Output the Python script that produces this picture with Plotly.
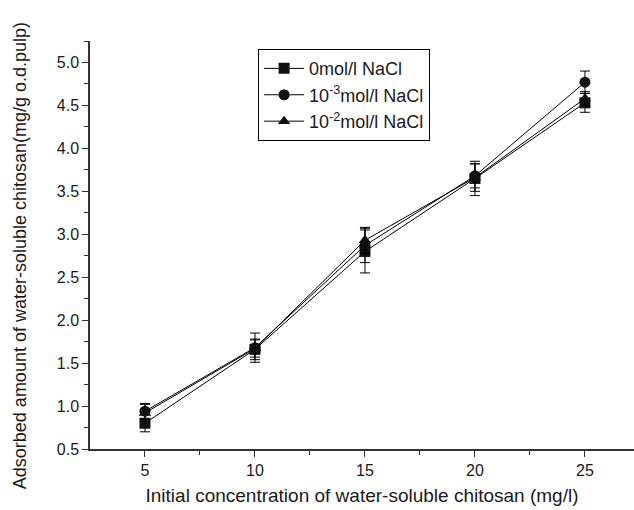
import plotly.graph_objects as go

x = [5, 10, 15, 20, 25]
names = ["0mol/l NaCl", "10<sup>-3</sup>mol/l NaCl", "10<sup>-2</sup>mol/l NaCl"]
y0 = [0.80, 1.66, 2.80, 3.65, 4.53]
e0 = [0.10, 0.12, 0.25, 0.20, 0.11]
y1 = [0.94, 1.68, 2.87, 3.68, 4.77]
e1 = [0.09, 0.17, 0.20, 0.14, 0.13]
y2 = [0.92, 1.67, 2.93, 3.66, 4.58]
e2 = [0.10, 0.10, 0.15, 0.16, 0.08]
symbols = ["square", "circle", "triangle-up"]
y_title = "Adsorbed amount of water-soluble chitosan(mg/g o.d.pulp)"
x_title = "Initial concentration of water-soluble chitosan (mg/l)"

fig = go.Figure()
for name, ys, es, sym in zip(names, [y0, y1, y2], [e0, e1, e2], symbols):
    fig.add_trace(go.Scatter(
        x=x, y=ys, name=name, mode="lines+markers",
        line=dict(color="black", width=1),
        marker=dict(symbol=sym, size=11, color="#111"),
        error_y=dict(type="data", array=es, color="black", thickness=1, width=5),
    ))

font = "Liberation Sans, Arial, sans-serif"
fig.update_layout(
    width=634, height=510,
    margin=dict(l=90, r=0, t=41, b=61),
    paper_bgcolor="white", plot_bgcolor="white",
    font=dict(family=font, color="#1a1a1a", size=16),
    showlegend=True,
    legend=dict(x=0.309, y=0.98, xanchor="left", yanchor="top",
                bordercolor="black", borderwidth=1, bgcolor="white",
                font=dict(size=18, family=font, color="#1a1a1a"),
                tracegroupgap=0, itemwidth=40),
    xaxis=dict(range=[2.5, 27.23], tickvals=[5, 10, 15, 20, 25],
               showline=True, linecolor="#333", linewidth=1.5,
               ticks="outside", ticklen=6, tickcolor="#333",
               minor=dict(tickvals=[7.5, 12.5, 17.5, 22.5, 27.5], ticks="outside", ticklen=4, tickcolor="#333"),
               showgrid=False, zeroline=False,
               tickfont=dict(size=16),
               title=dict(text=x_title, font=dict(size=19), standoff=11)),
    yaxis=dict(range=[0.5, 5.25], tickvals=[0.5, 1.0, 1.5, 2.0, 2.5, 3.0, 3.5, 4.0, 4.5, 5.0],
               ticktext=["0.5", "1.0", "1.5", "2.0", "2.5", "3.0", "3.5", "4.0", "4.5", "5.0"],
               showline=True, linecolor="#333", linewidth=1.5,
               ticks="outside", ticklen=6, tickcolor="#333",
               minor=dict(tickvals=[0.75, 1.25, 1.75, 2.25, 2.75, 3.25, 3.75, 4.25, 4.75, 5.25],
                          ticks="outside", ticklen=4, tickcolor="#333"),
               showgrid=False, zeroline=False,
               tickfont=dict(size=16)),
    annotations=[dict(text=y_title, textangle=-90, xref="paper", yref="paper",
                      x=-0.1287, y=0.475, xanchor="center", yanchor="middle",
                      showarrow=False, font=dict(size=18, family=font, color="#1a1a1a"))],
)
fig.write_html("out.html")
